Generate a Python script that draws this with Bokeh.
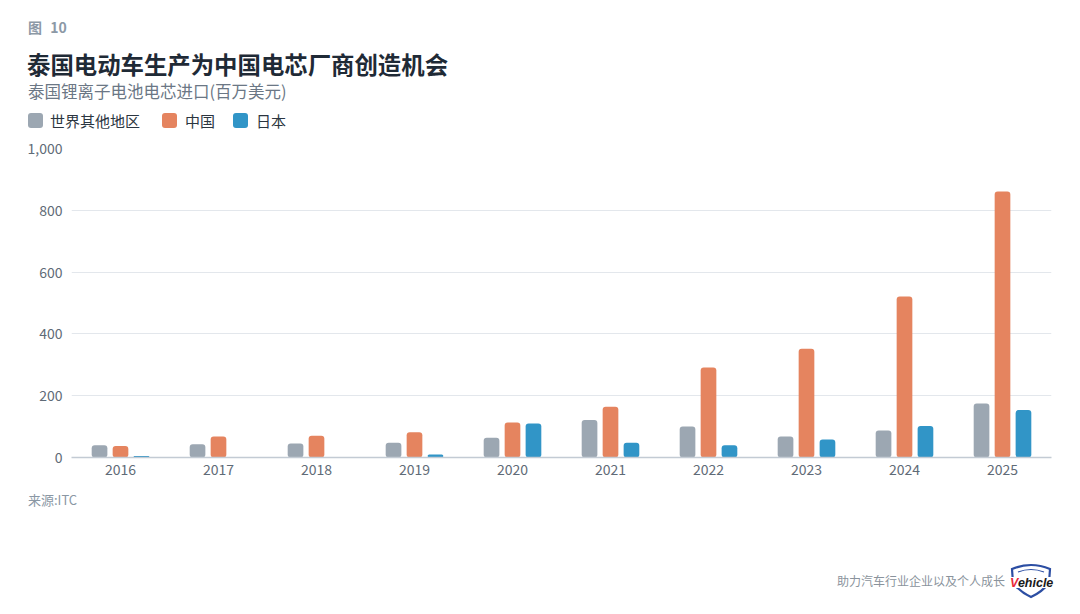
from bokeh.plotting import figure
from bokeh.models import ColumnDataSource, FactorRange, Range1d, Div, NumeralTickFormatter
from bokeh.layouts import column
from bokeh.transform import dodge
from bokeh.embed import file_html
from bokeh.resources import INLINE

years = ["2016", "2017", "2018", "2019", "2020", "2021", "2022", "2023", "2024", "2025"]
rest_of_world = [40, 43, 45, 48, 64, 121, 100, 68, 87, 175]
china = [37, 68, 70, 82, 113, 164, 291, 352, 521, 861]
japan = [5, 2, 1, 10, 110, 48, 40, 58, 102, 154]
series_names = ["世界其他地区", "中国", "日本"]
colors = ["#9ca7b2", "#e5845f", "#3195c7"]
y_ticks = [0, 200, 400, 600, 800, 1000]

fig_label = "图 10"
title_text = "泰国电动车生产为中国电芯厂商创造机会"
subtitle_text = "泰国锂离子电池电芯进口(百万美元)"
source_text = "来源:ITC"
footer_text = "助力汽车行业企业以及个人成长"

FONT = "Noto Sans CJK SC"
W = 1064
HEAD_H = 128
FIG_H = 357
FOOT_H = 113

def span(text, left, top, size, color, weight=400, extra=""):
    return (f'<div style="position:absolute;left:{left}px;top:{top}px;font-family:\'{FONT}\';'
            f'font-size:{size}px;line-height:{size}px;color:{color};font-weight:{weight};'
            f'white-space:nowrap;{extra}">{text}</div>')

# header
head = [span(fig_label, 28, 20, 14, "#8c99a6", 700, "word-spacing:5px;"),
        span(title_text, 27, 53, 23.4, "#1f2a36", 700),
        span(subtitle_text, 28, 83, 16.5, "#6b7785")]
leg_sq_x = [28, 162, 233]
leg_tx_x = [50, 185, 256]
for name, c, sx, tx in zip(series_names, colors, leg_sq_x, leg_tx_x):
    head.append(f'<div style="position:absolute;left:{sx}px;top:113px;width:15px;height:15px;'
                f'border-radius:3px;background:{c};"></div>')
    head.append(span(name, tx, 113, 15, "#2b3540"))
header = Div(text=f'<div style="position:relative;width:{W}px;height:{HEAD_H}px;">' + "".join(head) + '</div>',
             width=W, height=HEAD_H, margin=0)

src = ColumnDataSource(dict(year=years, row=rest_of_world, cn=china, jp=japan))

p = figure(width=W, height=FIG_H, x_range=FactorRange(*years, range_padding=0),
           y_range=Range1d(0, 1000), output_backend="svg", toolbar_location=None,
           min_border_left=71, min_border_right=13, min_border_top=20, min_border_bottom=28)
p.outline_line_color = None
p.background_fill_color = "white"
p.border_fill_color = "white"
p.margin = 0

renderers = []
for col, off, c in zip(["row", "cn", "jp"], [-0.214, 0.0, 0.214], colors):
    r = p.vbar(x=dodge("year", off, range=p.x_range), top=col, width=0.16, source=src,
               fill_color=c, line_color=None, border_radius=3)
    renderers.append(r)

p.xgrid.grid_line_color = None
p.ygrid.grid_line_color = "#e3e7ec"
p.ygrid.grid_line_width = 1
p.yaxis.ticker = y_ticks
p.yaxis.formatter = NumeralTickFormatter(format="0,0")
p.yaxis.axis_line_color = None
p.yaxis.major_tick_line_color = None
p.yaxis.minor_tick_line_color = None
p.yaxis.major_tick_in = 0
p.yaxis.major_tick_out = 0
p.yaxis.major_label_standoff = 9
p.yaxis.major_label_text_font = FONT
p.yaxis.major_label_text_font_size = "14px"
p.yaxis.major_label_text_color = "#5f6b77"

p.xaxis.axis_line_color = "#c3cbd4"
p.xaxis.axis_line_width = 1.5
p.xaxis.major_tick_line_color = None
p.xaxis.minor_tick_line_color = None
p.xaxis.major_tick_in = 0
p.xaxis.major_tick_out = 0
p.xaxis.major_label_standoff = 6
p.xaxis.major_label_text_font = FONT
p.xaxis.major_label_text_font_size = "14px"
p.xaxis.major_label_text_color = "#5f6b77"

# footer
logo_svg = ('<svg style="position:absolute;left:1006px;top:78px" width="50" height="36" viewBox="0 0 50 36">'
            '<path d="M6 6 Q25 -2 44 6 L43 20 Q36 29 25 34 Q14 29 7 20 Z" fill="white" stroke="#2c4ea3" stroke-width="2.2"/>'
            '<path d="M12 9 Q25 4 38 9" fill="none" stroke="#2c4ea3" stroke-width="1.2"/>'
            '<rect x="2" y="14" width="46" height="11" fill="white"/>'
            '<text x="4" y="24" font-family="Liberation Sans" font-size="12.5" font-weight="bold" font-style="italic">'
            '<tspan fill="#e8283c">V</tspan><tspan fill="#1a1a1a">ehicle</tspan></text></svg>')
foot = [span(source_text, 28, 8, 13, "#8a97a4"),
        span(footer_text, 837, 90, 12, "#8a939c"),
        logo_svg]
footer = Div(text=f'<div style="position:relative;width:{W}px;height:{FOOT_H}px;">' + "".join(foot) + '</div>',
             width=W, height=FOOT_H, margin=0)

layout = column(header, p, footer, spacing=0)
open("out.html", "w").write(file_html(layout, INLINE))
